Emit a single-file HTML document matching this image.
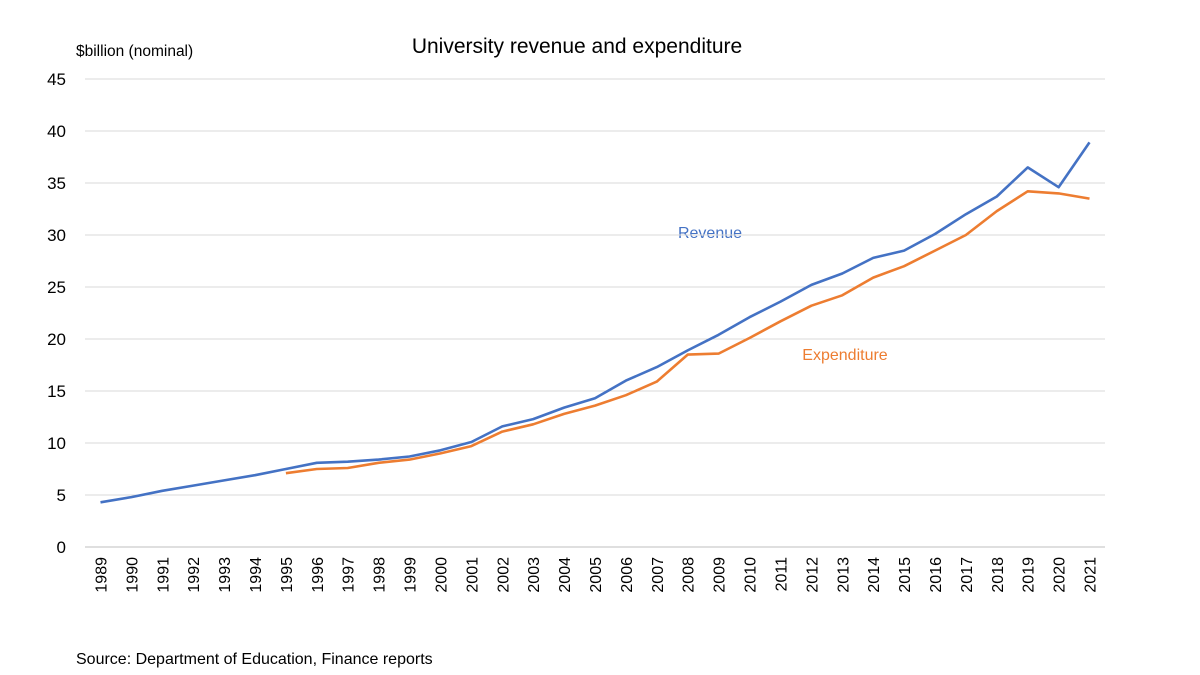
<!DOCTYPE html>
<html><head><meta charset="utf-8"><style>
body{margin:0;background:#fff;font-family:"Liberation Sans",Calibri,sans-serif;}
svg{display:block}
text{font-family:"Liberation Sans",sans-serif;}
</style></head><body>
<svg id="chart" width="1200" height="675">
<text x="76" y="56" font-size="15.5" fill="#000">$billion (nominal)</text>
<text x="577" y="53" font-size="21" text-anchor="middle" fill="#000">University revenue and expenditure</text>
<text x="76" y="664" font-size="16" fill="#000">Source: Department of Education, Finance reports</text>
<text x="710" y="238" font-size="16" text-anchor="middle" fill="#4472c4">Revenue</text>
<text x="845" y="360" font-size="16" text-anchor="middle" fill="#ed7d31">Expenditure</text>
<g id="grid"></g><g id="xt"></g><g id="lines"></g>
</svg>
<script>
const years=[];for(let y=1989;y<=2021;y++)years.push(y);
const revenue=[4.3,4.8,5.4,5.9,6.4,6.9,7.5,8.1,8.2,8.4,8.7,9.3,10.1,11.6,12.3,13.4,14.3,16.0,17.3,18.9,20.4,22.1,23.6,25.2,26.3,27.8,28.5,30.1,32.0,33.7,36.5,34.6,38.9];
const expenditure=[null,null,null,null,null,null,7.1,7.5,7.6,8.1,8.4,9.0,9.7,11.1,11.8,12.8,13.6,14.6,15.9,18.5,18.6,20.1,21.7,23.2,24.2,25.9,27.0,28.5,30.0,32.3,34.2,34.0,33.5];
const yTicks=[0,5,10,15,20,25,30,35,40,45];
const NS="http://www.w3.org/2000/svg";
const x0=85,x1=1105,yb=547,yt=79;
const xs=i=>x0+(x1-x0)*(i+0.5)/years.length;
const ys=v=>yb-(v/45)*(yb-yt);
const grid=document.getElementById('grid'),xt=document.getElementById('xt'),lines=document.getElementById('lines');
yTicks.forEach(t=>{
 const l=document.createElementNS(NS,'line');
 l.setAttribute('x1',x0);l.setAttribute('x2',x1);l.setAttribute('y1',ys(t));l.setAttribute('y2',ys(t));
 l.setAttribute('stroke',t===0?'#bfbfbf':'#d9d9d9');l.setAttribute('stroke-width','1');
 
 
 grid.appendChild(l);
 const tx=document.createElementNS(NS,'text');
 tx.setAttribute('x',66);tx.setAttribute('y',ys(t)+6);tx.setAttribute('text-anchor','end');tx.setAttribute('font-size','17');
 tx.textContent=t;
 
 
 grid.appendChild(tx);
});
years.forEach((y,i)=>{
 const tx=document.createElementNS(NS,'text');
 const x=xs(i)+6,yy=557;
 tx.setAttribute('x',x);tx.setAttribute('y',yy);tx.setAttribute('text-anchor','end');tx.setAttribute('font-size','16');
 tx.setAttribute('transform','rotate(-90 '+x+' '+yy+')');
 tx.textContent=y;
 
 
 xt.appendChild(tx);
});
function draw(arr,color,name){
 let d='';arr.forEach((v,i)=>{if(v==null)return;d+=(d?'L':'M')+xs(i).toFixed(1)+' '+ys(v).toFixed(1);});
 const p=document.createElementNS(NS,'path');
 p.setAttribute('d',d);p.setAttribute('fill','none');p.setAttribute('stroke',color);p.setAttribute('stroke-width','2.6');p.setAttribute('stroke-linejoin','round');
 
 
 lines.appendChild(p);
}
draw(expenditure,'#ed7d31','expenditure-line');
draw(revenue,'#4472c4','revenue-line');
</script>
</body></html>
